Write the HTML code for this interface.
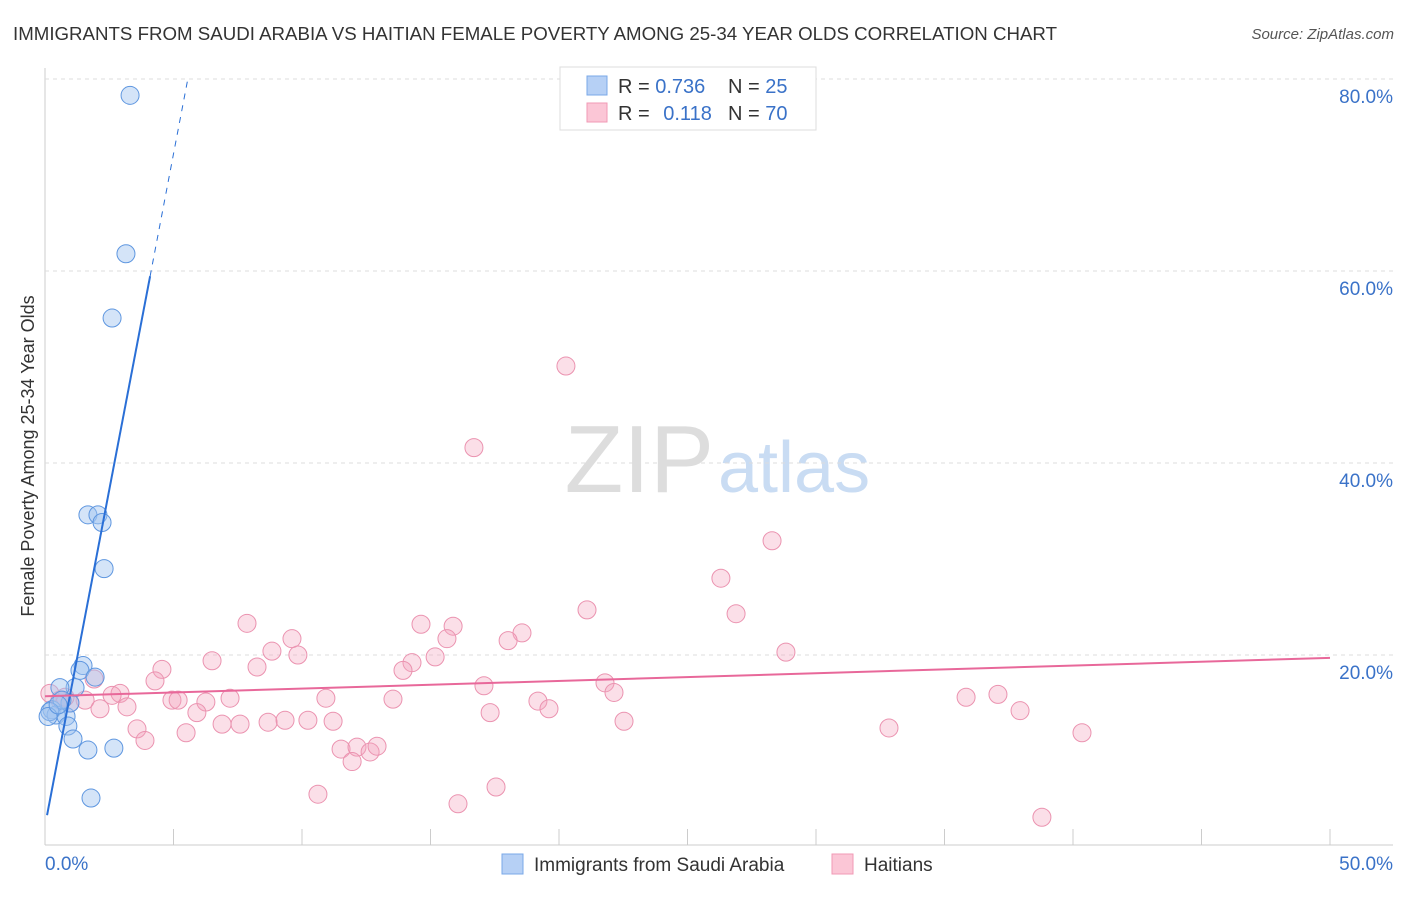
<!DOCTYPE html>
<html><head><meta charset="utf-8"><style>
body{margin:0;background:#fff;width:1406px;height:892px;overflow:hidden;font-family:"Liberation Sans",sans-serif}
svg text{font-family:"Liberation Sans",sans-serif}
</style></head><body>
<svg id="chart" width="1406" height="892" xmlns="http://www.w3.org/2000/svg">
<text x="13" y="40" font-size="18" fill="#333" textLength="1044" lengthAdjust="spacingAndGlyphs">IMMIGRANTS FROM SAUDI ARABIA VS HAITIAN FEMALE POVERTY AMONG 25-34 YEAR OLDS CORRELATION CHART</text>
<text x="1394" y="39" font-size="15" fill="#555" font-style="italic" text-anchor="end">Source: ZipAtlas.com</text>
<text x="714" y="492" font-size="96" fill="#ddd" text-anchor="end" font-family="Liberation Serif">ZIP</text>
<text x="718" y="492" font-size="72" fill="#c9dcf3">atlas</text>
<text transform="translate(34,456) rotate(-90)" font-size="18" fill="#333" text-anchor="middle">Female Poverty Among 25-34 Year Olds</text>
<g id="grid"></g><g id="pts"></g><g id="lines"></g>
<g>
<rect x="560" y="67" width="256" height="63" fill="#fff" stroke="#ddd"/>
<rect x="587" y="76" width="20" height="19" fill="#b6d0f5" stroke="#7aa8e8"/>
<rect x="587" y="103" width="20" height="19" fill="#fbc6d6" stroke="#f09ab5"/>
<text x="618" y="93" font-size="20" fill="#333">R = <tspan fill="#3a72c8">0.736</tspan></text>
<text x="728" y="93" font-size="20" fill="#333">N = <tspan fill="#3a72c8">25</tspan></text>
<text x="618" y="120" font-size="20" fill="#333">R = <tspan fill="#3a72c8" dx="8">0.118</tspan></text>
<text x="728" y="120" font-size="20" fill="#333">N = <tspan fill="#3a72c8">70</tspan></text>
</g>
<g>
<rect x="502" y="854" width="21" height="20" fill="#b6d0f5" stroke="#7aa8e8"/>
<text x="534" y="871" font-size="19" fill="#333">Immigrants from Saudi Arabia</text>
<rect x="832" y="854" width="21" height="20" fill="#fbc6d6" stroke="#f09ab5"/>
<text x="864" y="871" font-size="19" fill="#333">Haitians</text>
</g>
<text x="45" y="870" font-size="19" fill="#3a72c8">0.0%</text>
<text x="1393" y="870" font-size="19" fill="#3a72c8" text-anchor="end">50.0%</text>
</svg>
<script>
const yTicks=[20,40,60,80];
const xTickVals=[5,10,15,20,25,30,35,40,45,50];
const blueX=[3.31,3.15,2.61,1.67,2.06,2.22,2.30,1.48,1.36,1.95,1.17,0.58,0.27,0.43,0.82,0.97,0.66,0.89,1.09,1.67,2.68,1.79,0.19,0.12,0.51];
const blueY=[78.3,61.8,55.1,34.6,34.6,33.8,29.0,18.9,18.4,17.7,16.6,16.6,14.3,13.75,13.6,15.0,15.3,12.6,11.25,10.1,10.3,5.1,14.1,13.6,14.8];
const pinkX=[20.27,16.69,28.29,26.3,21.09,26.89,28.83,7.86,14.63,15.88,9.61,18.56,15.64,18.02,6.5,8.83,9.84,15.18,14.28,13.93,4.55,8.25,4.28,1.91,17.08,21.79,22.14,2.92,2.61,4.94,5.18,7.2,6.26,10.93,13.54,19.18,35.84,37.08,37.94,1.56,2.14,3.19,5.91,19.61,17.32,5.49,6.89,7.59,8.68,9.34,10.23,11.21,22.53,32.84,40.35,3.58,3.89,11.52,12.14,12.65,12.92,11.95,10.62,17.55,16.07,38.79,0.19,0.58,0.97,0.78];
const pinkY=[50.1,41.6,31.9,28.0,24.7,24.3,20.3,23.3,23.2,23.0,21.7,22.3,21.7,21.5,19.4,20.4,20.0,19.8,19.2,18.4,18.5,18.75,17.3,17.5,16.8,17.1,16.1,16.0,15.8,15.3,15.3,15.5,15.1,15.5,15.4,15.2,15.6,15.9,14.2,15.3,14.4,14.6,14.0,14.4,14.0,11.9,12.8,12.8,13.0,13.2,13.2,13.1,13.1,12.4,11.9,12.3,11.1,10.2,10.4,9.9,10.5,8.9,5.5,6.25,4.5,3.1,16.0,15.3,15.0,15.6];
const blueTrend=[2.2,14.0];
const pinkTrend=[15.7,0.08];
const X=v=>45+v/50*1285, Y=v=>847-v/20*192;
const NS="http://www.w3.org/2000/svg";
function mk(tag,at,parent){const e=document.createElementNS(NS,tag);for(const k in at)e.setAttribute(k,at[k]);document.getElementById(parent).appendChild(e);return e;}
const ax=mk('line',{x1:45,y1:68,x2:45,y2:845,stroke:'#ccc'},'grid');


const bx=mk('line',{x1:45,y1:845,x2:1393,y2:845,stroke:'#ccc'},'grid');


yTicks.forEach(t=>{
 const g=mk('line',{x1:45,y1:Y(t),x2:1393,y2:Y(t),stroke:'#ddd','stroke-dasharray':'4,4'},'grid');
 
 
 const l=mk('text',{x:1393,y:Y(t)+24,'font-size':19,fill:'#3a72c8','text-anchor':'end'},'grid');
 l.textContent=t.toFixed(1)+'%';
 
 
});
xTickVals.forEach(t=>{
 const m=mk('line',{x1:X(t),y1:829,x2:X(t),y2:845,stroke:'#ccc'},'grid');
 
 
});
pinkX.forEach((v,i)=>{
 const c=mk('circle',{cx:X(v),cy:Y(pinkY[i]),r:9,fill:'rgba(244,164,190,0.35)',stroke:'#eb93b0','stroke-width':1},'pts');
 
 
});
blueX.forEach((v,i)=>{
 const c=mk('circle',{cx:X(v),cy:Y(blueY[i]),r:9,fill:'rgba(160,196,240,0.45)',stroke:'#5f97e0','stroke-width':1},'pts');
 
 
});
const bl=mk('line',{x1:X(0.08),y1:Y(blueTrend[0]+blueTrend[1]*0.08),x2:X(4.09),y2:Y(blueTrend[0]+blueTrend[1]*4.09),stroke:'#2a6fd6','stroke-width':2},'lines');


const bd=mk('line',{x1:X(4.09),y1:Y(blueTrend[0]+blueTrend[1]*4.09),x2:X(5.55),y2:Y(blueTrend[0]+blueTrend[1]*5.55),stroke:'#2a6fd6','stroke-width':1,'stroke-dasharray':'6,6'},'lines');


const pl=mk('line',{x1:X(0),y1:Y(pinkTrend[0]),x2:X(50),y2:Y(pinkTrend[0]+pinkTrend[1]*50),stroke:'#e8689a','stroke-width':2},'lines');


</script>
</body></html>
